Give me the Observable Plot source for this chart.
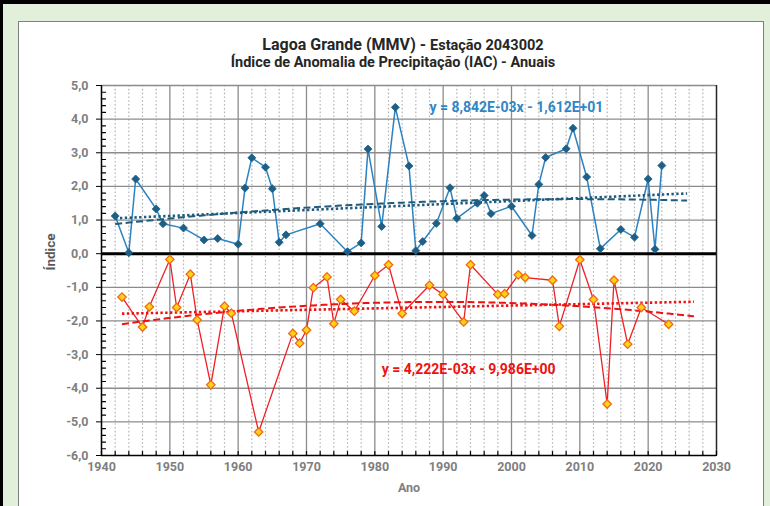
<!DOCTYPE html>
<html>
<head>
<meta charset="utf-8">
<script src="https://cdn.jsdelivr.net/npm/d3@7"></script>
<script src="https://cdn.jsdelivr.net/npm/@observablehq/plot@0.6"></script>
<style>
  html, body { margin: 0; padding: 0; }
  #page {
    position: relative; width: 770px; height: 506px; overflow: hidden;
    background: #e2efda; box-sizing: border-box;
    border-top: 4px solid #000; border-left: 3px solid #000;
  }
  #panel {
    position: absolute; left: 15px; top: 17px; width: 744px; height: 500px;
    background: #fff; border: 1px solid #7f7f7f;
  }
  #chart { position: absolute; left: -3px; top: -4px; }
  .title {
    position: absolute; left: -3px; text-align: center; white-space: nowrap;
    font-family: Roboto, "Liberation Sans", sans-serif; font-weight: bold; color: #262626;
  }
</style>
</head>
<body>
<div id="page">
  <div id="panel"></div>
  <div id="chart"></div>
  <div class="title" style="top:31px;width:806px;font-size:16px;">Lagoa Grande (MMV) - <span style="font-size:14.5px;">Estação 2043002</span></div>
  <div class="title" style="top:50px;width:786px;font-size:14.5px;">Índice de Anomalia de Precipitação (IAC) - Anuais</div>
</div>
<script>
// Annual precipitation anomaly index (IAC) – positive years
const posYears = [1942, 1944, 1945, 1948, 1949, 1952, 1955, 1957, 1960, 1961, 1962, 1964, 1965, 1966, 1967,
  1972, 1976, 1978, 1979, 1981, 1983, 1985, 1986, 1987, 1989, 1991, 1992, 1995, 1996, 1997,
  2000, 2003, 2004, 2005, 2008, 2009, 2011, 2013, 2016, 2018, 2020, 2021, 2022];
const posIAC = [1.12, 0.03, 2.22, 1.33, 0.89, 0.76, 0.41, 0.45, 0.28, 1.95, 2.85, 2.57, 1.93, 0.34, 0.56,
  0.89, 0.06, 0.32, 3.11, 0.81, 4.35, 2.61, 0.09, 0.36, 0.90, 1.96, 1.05, 1.50, 1.73, 1.19,
  1.41, 0.54, 2.06, 2.86, 3.12, 3.73, 2.28, 0.15, 0.72, 0.49, 2.22, 0.13, 2.62];

// Negative years
const negYears = [1943, 1946, 1947, 1950, 1951, 1953, 1954, 1956, 1958, 1959, 1963, 1968, 1969, 1970, 1971,
  1973, 1974, 1975, 1977, 1980, 1982, 1984, 1988, 1990, 1993, 1994, 1998, 1999, 2001, 2002,
  2006, 2007, 2010, 2012, 2014, 2015, 2017, 2019, 2023];
const negIAC = [-1.29, -2.18, -1.58, -0.17, -1.60, -0.61, -1.97, -3.90, -1.56, -1.77, -5.30, -2.37, -2.66, -2.27, -1.01,
  -0.69, -2.08, -1.36, -1.71, -0.65, -0.33, -1.78, -0.94, -1.21, -2.03, -0.33, -1.21, -1.19, -0.63, -0.71,
  -0.79, -2.16, -0.18, -1.36, -4.47, -0.79, -2.69, -1.60, -2.10];

// Linear trend equations (slope, intercept) as printed on the chart
const posLinear = [8.842e-3, -1.612e1];
const negLinear = [4.222e-3, -9.986];
const posLabel = "y = 8,842E-03x - 1,612E+01";
const negLabel = "y = 4,222E-03x - 9,986E+00";

// Axis ticks
const xTicks = d3.range(1940, 2031, 10);
const xMinor = d3.range(1942, 2030, 2).filter(d => d % 10 !== 0);
const yTicks = d3.range(-6, 5.01, 1);
const yMinor = d3.range(-6, 5.001, 0.2).map(d => +d.toFixed(1)).filter(d => Math.abs(d - Math.round(d)) > 1e-6);

const pos = posYears.map((year, i) => ({year, v: posIAC[i]}));
const neg = negYears.map((year, i) => ({year, v: negIAC[i]}));

const forward = 3.7; // trendline forecast period (years)

function linearTrend(data, [a, b]) {
  const x0 = data[0].year, x1 = data[data.length - 1].year + forward;
  return [x0, x1].map(year => ({year, v: a * year + b}));
}

// Second-order polynomial least-squares fit
function quadTrend(data) {
  const mx = d3.mean(data, d => d.year);
  const S = [[0, 0, 0], [0, 0, 0], [0, 0, 0]], T = [0, 0, 0];
  for (const d of data) {
    const t = d.year - mx, p = [1, t, t * t];
    for (let i = 0; i < 3; i++) { T[i] += p[i] * d.v; for (let j = 0; j < 3; j++) S[i][j] += p[i] * p[j]; }
  }
  // Gaussian elimination
  const M = S.map((r, i) => [...r, T[i]]);
  for (let i = 0; i < 3; i++) {
    for (let k = i + 1; k < 3; k++) {
      const f = M[k][i] / M[i][i];
      for (let j = i; j < 4; j++) M[k][j] -= f * M[i][j];
    }
  }
  const c = [0, 0, 0];
  for (let i = 2; i >= 0; i--) {
    let s = M[i][3];
    for (let j = i + 1; j < 3; j++) s -= M[i][j] * c[j];
    c[i] = s / M[i][i];
  }
  const x0 = data[0].year, x1 = data[data.length - 1].year + forward;
  return d3.range(x0, x1 + 1e-9, 0.5).concat([x1]).map(year => {
    const t = year - mx;
    return {year, v: c[0] + c[1] * t + c[2] * t * t};
  });
}

const fmt = d => d.toFixed(1).replace(".", ",");
const font = "Roboto, 'Liberation Sans', sans-serif";

const blueLine = "#2b82c0", blueMark = "#1d5f86", blueTrend = "#1f5b7c", blueText = "#2e86c6";
const redLine = "#ee2026", redTrend = "#f01010";
const tickLine = {draw(ctx, l) { ctx.moveTo(0, 0); ctx.lineTo(0, -l); }};

const chart = Plot.plot({
  width: 770, height: 506,
  marginLeft: 101, marginRight: 54, marginTop: 85, marginBottom: 51,
  style: {background: "transparent", fontFamily: font, fontSize: "12.5px", fontWeight: "bold", overflow: "visible"},
  x: {domain: [1940, 2030]},
  y: {domain: [-6, 5]},
  marks: [
    // grid
    Plot.ruleX(xMinor, {stroke: "#b4b4b4", strokeWidth: 1.2, strokeDasharray: "1.6,2.2"}),
    Plot.ruleX(xTicks.slice(1, -1), {stroke: "#8c8c8c", strokeWidth: 1.3}),
    Plot.ruleY(yTicks.filter(d => d !== 0 && d !== -6), {stroke: "#8c8c8c", strokeWidth: 1.3}),
    Plot.ruleX([2030], {stroke: "#262626", strokeWidth: 1.5}),
    Plot.ruleX([1940], {stroke: "#000", strokeWidth: 1.5}),
    Plot.ruleY([-6], {stroke: "#000", strokeWidth: 1.5}),
    // minor ticks
    Plot.vector(yMinor, {y: d => d, frameAnchor: "left", rotate: 90, length: 4, anchor: "start",
      stroke: "#000", strokeWidth: 1.2, shape: tickLine}),
    Plot.vector(xMinor.concat(xTicks), {x: d => d, frameAnchor: "bottom", length: 4, anchor: "start",
      stroke: "#000", strokeWidth: 1.2, shape: tickLine}),
    Plot.axisY({ticks: yTicks, tickFormat: fmt, tickSize: 5, tickPadding: 8, stroke: "#000", fill: "#7f7f7f", label: null}),
    Plot.axisX({ticks: xTicks, tickFormat: d => String(d), tickSize: 0, tickPadding: 7, fill: "#7f7f7f", label: null}),
    // zero line
    Plot.ruleY([0], {stroke: "#000", strokeWidth: 3}),
    // positive series
    Plot.line(pos, {x: "year", y: "v", stroke: blueLine, strokeWidth: 1.5}),
    Plot.line(linearTrend(pos, posLinear), {x: "year", y: "v", stroke: blueTrend, strokeWidth: 2.6,
      strokeDasharray: "2.4,2.4", strokeLinecap: "butt"}),
    Plot.line(quadTrend(pos), {x: "year", y: "v", stroke: blueTrend, strokeWidth: 2,
      strokeDasharray: "7,3.5", strokeLinecap: "butt"}),
    Plot.dot(pos, {x: "year", y: "v", symbol: "diamond2", r: 3.6, fill: blueMark, stroke: blueMark, strokeWidth: 0.8}),
    // negative series
    Plot.line(neg, {x: "year", y: "v", stroke: redLine, strokeWidth: 1.3}),
    Plot.line(linearTrend(neg, negLinear), {x: "year", y: "v", stroke: redTrend, strokeWidth: 2.6,
      strokeDasharray: "2.4,2.4", strokeLinecap: "butt"}),
    Plot.line(quadTrend(neg), {x: "year", y: "v", stroke: redTrend, strokeWidth: 2,
      strokeDasharray: "7,3.5", strokeLinecap: "butt"}),
    Plot.dot(neg, {x: "year", y: "v", symbol: "diamond2", r: 3.8, fill: "#ffd21a", stroke: "#f26a10", strokeWidth: 1.3}),
    // trend equations
    Plot.text([posLabel], {x: 1988, y: 4.36, text: d => d, textAnchor: "start", fill: blueText, fontSize: 14, fontFamily: font, fontWeight: "bold"}),
    Plot.text([negLabel], {x: 1981, y: -3.45, text: d => d, textAnchor: "start", fill: redTrend, fontSize: 14, fontFamily: font, fontWeight: "bold"}),
    // axis titles
    Plot.text(["Índice"], {frameAnchor: "left", dx: -51, rotate: -90, fill: "#595959", fontSize: 13.5, fontFamily: font, fontWeight: "bold"}),
    Plot.text(["Ano"], {frameAnchor: "bottom", dy: 36, fill: "#7f7f7f", fontSize: 12.5, fontFamily: font, fontWeight: "bold"})
  ]
});
document.getElementById("chart").appendChild(chart);
</script>
</body>
</html>
